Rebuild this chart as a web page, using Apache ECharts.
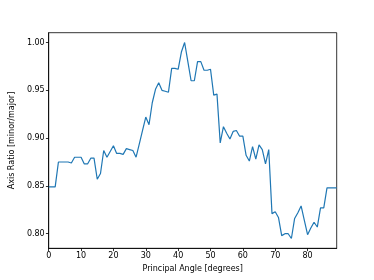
<!DOCTYPE html>
<html>
<head>
<meta charset="utf-8">
<script src="https://cdn.jsdelivr.net/npm/echarts@6/dist/echarts.min.js"></script>
<style>html,body{margin:0;padding:0;background:#fff;}#c{width:374px;height:280px;}</style>
</head>
<body>
<div id="c"></div>
<script>
const angles = [];
for (let a = 0; a <= 89; a++) angles.push(a);
const axisRatio = [
  0.849, 0.849, 0.849, 0.875, 0.875, 0.875, 0.875, 0.874, 0.880, 0.880,
  0.880, 0.873, 0.873, 0.879, 0.879, 0.857, 0.863, 0.887, 0.880, 0.886,
  0.892, 0.884, 0.884, 0.883, 0.889, 0.888, 0.887, 0.880, 0.894, 0.908,
  0.922, 0.914, 0.937, 0.951, 0.958, 0.950, 0.949, 0.948, 0.973, 0.973,
  0.972, 0.990, 1.000, 0.980, 0.960, 0.960, 0.980, 0.980, 0.971, 0.971,
  0.972, 0.945, 0.946, 0.895, 0.912, 0.905, 0.899, 0.907, 0.908, 0.902,
  0.902, 0.882, 0.876, 0.891, 0.878, 0.893, 0.888, 0.873, 0.888, 0.821,
  0.823, 0.817, 0.798, 0.800, 0.800, 0.795, 0.816, 0.822, 0.829, 0.814,
  0.799, 0.806, 0.812, 0.807, 0.827, 0.827, 0.848, 0.848, 0.848, 0.848
];
const xTicks = [0, 10, 20, 30, 40, 50, 60, 70, 80];
const yTicks = [0.80, 0.85, 0.90, 0.95, 1.00];
const xLabel = 'Principal Angle [degrees]';
const yLabel = 'Axis Ratio [minor/major]';

const ymin = Math.min(...axisRatio), ymax = Math.max(...axisRatio);
const pad = (ymax - ymin) * 0.05;
const font = 'DejaVu Sans';

const chart = echarts.init(document.getElementById('c'), null, {renderer: 'canvas'});
chart.setOption({
  animation: false,
  backgroundColor: '#fff',
  grid: {left: 47.3, top: 32.7, right: 37.3, bottom: 31.7, show: true, borderColor: '#000', borderWidth: 0.8, backgroundColor: 'transparent'},
  xAxis: {
    type: 'value', min: 0, max: 89,
    name: xLabel, nameLocation: 'middle', nameGap: 15,
    nameTextStyle: {fontFamily: font, fontSize: 8, color: '#000'},
    splitLine: {show: false},
    axisLine: {show: true, lineStyle: {color: '#000', width: 0.8}},
    axisTick: {show: true, length: 2.8, lineStyle: {color: '#000', width: 0.8}, customValues: xTicks},
    axisLabel: {fontFamily: font, fontSize: 8, color: '#000', margin: 4, customValues: xTicks, hideOverlap: false, showMinLabel: true, showMaxLabel: true}
  },
  yAxis: {
    type: 'value', min: ymin - pad, max: ymax + pad,
    name: yLabel, nameLocation: 'middle', nameGap: 26,
    nameTextStyle: {fontFamily: font, fontSize: 8, color: '#000'},
    splitLine: {show: false},
    axisLine: {show: true, lineStyle: {color: '#000', width: 0.8}},
    axisTick: {show: true, length: 2.8, lineStyle: {color: '#000', width: 0.8}, customValues: yTicks},
    axisLabel: {fontFamily: font, fontSize: 8, color: '#000', margin: 4, customValues: yTicks, formatter: v => v.toFixed(2)}
  },
  series: [{
    type: 'line',
    data: angles.map((a, i) => [a, axisRatio[i]]),
    showSymbol: false,
    lineStyle: {color: '#1f77b4', width: 1.2},
    itemStyle: {color: '#1f77b4'}
  }]
});
</script>
</body>
</html>
